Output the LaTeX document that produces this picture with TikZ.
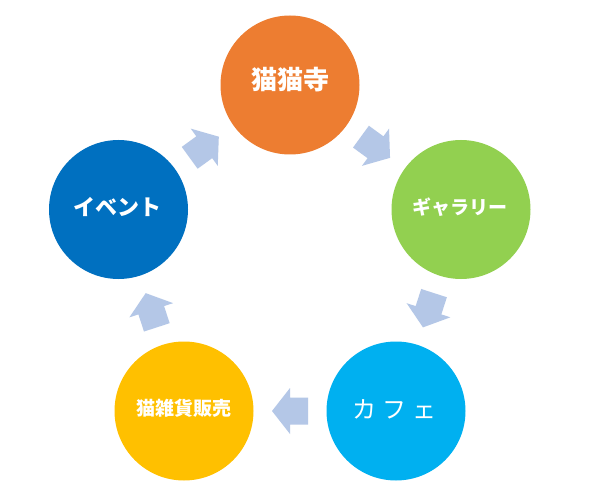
\documentclass[tikz,border=0pt]{standalone}
\usepackage{fontspec}
\newfontfamily\jp{Noto Sans CJK JP}
\usetikzlibrary{calc}
\definecolor{cOrange}{HTML}{ED7D31}
\definecolor{cGreen}{HTML}{92D050}
\definecolor{cCyan}{HTML}{00B0F0}
\definecolor{cYellow}{HTML}{FFC000}
\definecolor{cBlue}{HTML}{0070C0}
\definecolor{cArrow}{HTML}{B4C7E7}
% block arrow from node #1 towards node #2, centred between them
\newcommand\cycarrow[2]{%
  \coordinate (m) at ($(#1)!0.5!(#2)$);
  \coordinate (t) at ($(m)!18pt!(#1)$);
  \coordinate (p) at ($(m)!18pt!(#2)$);
  \fill[arrowfill] ($(t)!13.5pt!90:(m)$) -- ($(m)!13.5pt!-90:(t)$)
    -- ($(m)!23pt!-90:(t)$) -- (p) -- ($(m)!23pt!90:(t)$)
    -- ($(m)!13.5pt!90:(t)$) -- ($(t)!13.5pt!-90:(m)$) -- cycle;}
\begin{document}
\begin{tikzpicture}[x=1pt,y=-1pt,
  stage/.style={circle, minimum size=139pt, inner sep=0pt, draw=none},
  lbl/.style={text=white, inner sep=0pt, font=\jp\bfseries},
  arrowfill/.style={fill=cArrow, draw=none}]
\useasboundingbox (0,0) rectangle (600,500);
\fill[white] (0,0) rectangle (600,500);
% stages
\node[stage, fill=cOrange] (o) at (290,85) {};
\node[stage, fill=cGreen]  (g) at (461,209.5) {};
\node[stage, fill=cCyan]   (c) at (396,411) {};
\node[stage, fill=cYellow] (y) at (184,411) {};
\node[stage, fill=cBlue]   (b) at (118.5,209.5) {};
% labels
\node[lbl, font=\jp\bfseries\fontsize{26}{26}\selectfont] (to) at (290,80) {猫猫寺};
\node[lbl, font=\jp\bfseries\fontsize{19}{19}\selectfont] (tg) at (460,207) {ギャラリー};
\node[lbl, font=\jp\fontsize{24}{24}\selectfont] (tc) at (394,409)
  {カ\hspace{6pt}フ\hspace{6pt}ェ};
\node[lbl, font=\jp\bfseries\fontsize{19}{19}\selectfont] (ty) at (184,408) {猫雑貨販売};
\node[lbl, font=\jp\bfseries\fontsize{22}{22}\selectfont] (tb) at (117,207) {イベント};
% cycle arrows
\cycarrow{o}{g}
\cycarrow{g}{c}
\cycarrow{c}{y}
\cycarrow{y}{b}
\cycarrow{b}{o}
\end{tikzpicture}
\end{document}
